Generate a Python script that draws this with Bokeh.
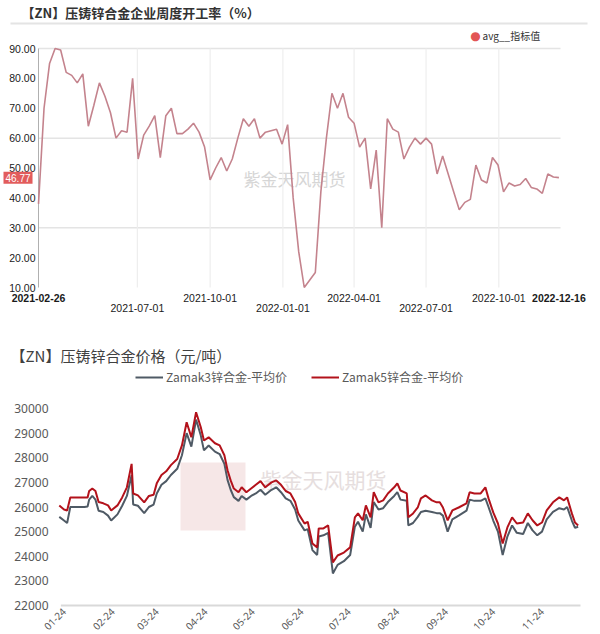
import pandas as pd
from bokeh.plotting import figure
from bokeh.layouts import column
from bokeh.models import (Label, Legend, LegendItem, BoxAnnotation, Range1d)
from bokeh.embed import file_html
from bokeh.resources import INLINE

# ---------------- data: weekly operating rate (%) ----------------
util_title = "【ZN】压铸锌合金企业周度开工率（%）"
util_series = "avg__指标值"
util_start = "2021-02-26"
util_values = [38, 70, 85, 90, 89.5, 82, 81, 78.5, 81.5, 64,
               71, 78.5, 74, 68.5, 60, 62.5, 62, 80, 53, 61,
               64, 67.5, 53.5, 67.5, 70, 61.5, 61.5, 63, 65, 62,
               57, 46, 50, 53.5, 49, 53, 60, 66.5, 64, 66.5,
               60, 62, 62.5, 63, 58, 64.5, 40, 22, 10, 12.5,
               15, 42, 60, 75, 70, 75, 67, 65, 57, 60,
               43, 56, 30, 66.5, 63, 62, 53, 57, 60, 58,
               60, 58, 48, 54, 48, 42, 36, 38.5, 39.5, 51,
               46, 45, 53.5, 51, 42, 45, 44, 44.5, 46.5, 43.5,
               43, 41.5, 48, 47, 46.77]
util_label_dates = ["2021-02-26", "2021-07-01", "2021-10-01", "2022-01-01",
                    "2022-04-01", "2022-07-01", "2022-10-01", "2022-12-16"]
util_label_rows = [0, 1, 0, 1, 0, 1, 0, 0]
util_label_bold = [True, False, False, False, False, False, False, True]
util_yticks = [10, 20, 30, 40, 50, 60, 70, 80, 90]
util_ygrid = [30, 60, 90]
util_x_end = "2022-12-18"

# ---------------- data: die-casting zinc alloy prices ----------------
price_title = "【ZN】压铸锌合金价格（元/吨）"
price_base = "2022-01-24"
price_offsets = [-3, 0, 2, 4, 6, 9, 13, 15, 16, 18, 20, 22, 25, 28, 30, 34, 37, 40, 43, 44,
                 47, 51, 54, 57, 59, 62, 65, 68, 72, 75, 78, 81, 84, 87, 89, 92, 96, 99, 102, 104,
                 106, 108, 111, 113, 116, 119, 122, 125, 128, 132, 135, 138, 141, 144, 147, 149, 153, 155, 158, 161,
                 162, 165, 168, 171, 174, 178, 182, 185, 187, 190, 192, 195, 197, 200, 203, 206, 210, 212, 214, 218,
                 219, 222, 225, 227, 230, 234, 237, 239, 241, 244, 247, 251, 256, 258, 261, 265, 268, 270, 273, 276,
                 279, 282, 285, 288, 292, 295, 298, 301, 304, 307, 311, 315, 318, 320, 323, 325, 327]
zamak5 = [26065, 25900, 25860, 26390, 26390, 26390, 26390, 26390, 26650, 26750, 26650, 26200, 26150, 26065, 25860, 26065, 26390, 26800, 27750, 26550,
          26470, 26190, 26450, 26500, 26960, 27300, 27450, 27700, 27950, 28500, 29440, 28830, 29850, 29240, 28700, 28830, 28590, 28500, 28100, 27490,
          27080, 26750, 26600, 26800, 26600, 26750, 26900, 27050, 26800, 27000, 27080, 26900, 26650, 26550, 26200, 25740, 25330, 25400, 24520, 24360,
          25130, 25130, 25250, 23750, 24030, 24150, 24360, 25580, 25740, 25460, 26065, 25580, 26600, 26190, 26270, 26550, 26800, 26960, 26670, 26550,
          25580, 25740, 25980, 26350, 26470, 26270, 26190, 26190, 25980, 25460, 25860, 25980, 26150, 26600, 26550, 26550, 26800, 26350, 25780, 25330,
          24520, 25170, 25580, 25330, 25370, 25740, 25460, 25250, 25370, 25860, 26190, 26390, 26270, 26390, 25740, 25370, 25250]
zamak3 = [25600, 25450, 25350, 26000, 26000, 26000, 26000, 26020, 26300, 26450, 26300, 25850, 25800, 25650, 25450, 25700, 26050, 26450, 27300, 26100,
          26050, 25750, 26000, 26100, 26550, 26900, 27050, 27300, 27550, 28100, 29000, 28450, 29550, 28900, 28300, 28500, 28250, 28150, 27750, 27100,
          26700, 26400, 26250, 26450, 26300, 26450, 26550, 26700, 26500, 26700, 26800, 26600, 26350, 26250, 25900, 25450, 25050, 25100, 24250, 24050,
          24800, 24850, 24950, 23300, 23650, 23800, 24050, 25200, 25400, 25000, 25700, 25150, 26200, 25900, 25950, 26200, 26450, 26600, 26300, 26250,
          25250, 25350, 25600, 25800, 25850, 25800, 25750, 25750, 25650, 25000, 25500, 25650, 25850, 26300, 26250, 26250, 26350, 26000, 25450, 25000,
          24050, 24800, 25250, 24950, 24900, 25350, 25050, 24850, 25000, 25500, 25800, 25950, 25900, 26000, 25450, 25150, 25200]
price_series = ["Zamak3锌合金-平均价", "Zamak5锌合金-平均价"]
price_tick_dates = ["2022-01-24", "2022-02-24", "2022-03-24", "2022-04-24", "2022-05-24", "2022-06-24",
                    "2022-07-24", "2022-08-24", "2022-09-24", "2022-10-24", "2022-11-24"]
price_tick_labels = ["01-24", "02-24", "03-24", "04-24", "05-24", "06-24",
                     "07-24", "08-24", "09-24", "10-24", "11-24"]
price_yticks = [22000, 23000, 24000, 25000, 26000, 27000, 28000, 29000, 30000]
price_ygrid = [22000]
price_x_start = -3.5
price_x_end = 328.5

CJK = "Noto Sans CJK SC"
DAY = 86400000.0


def ms(d):
    return pd.Timestamp(d).value / 1e6


def xr(v0, v1, px0, px1, total):
    """Range so that v0 sits at pixel px0 and v1 at px1 of a canvas `total` wide."""
    s = (v1 - v0) / (px1 - px0)
    return Range1d(v0 - px0 * s, v0 + (total - px0) * s)


def yr(v0, v1, pb, pt, total):
    """Range so that v0 sits at pixel row pb and v1 at row pt (rows from top)."""
    s = (v1 - v0) / (pb - pt)
    return Range1d(v0 - (total - pb) * s, v1 + pt * s)


def new_fig(w, h, x_range, y_range):
    p = figure(width=w, height=h, x_axis_type="datetime", output_backend="svg",
               toolbar_location=None, x_range=x_range, y_range=y_range,
               min_border=0, min_border_left=0, min_border_right=0,
               min_border_top=0, min_border_bottom=0)
    p.axis.visible = False
    p.grid.visible = False
    p.outline_line_color = None
    p.border_fill_color = "white"
    p.background_fill_color = "white"
    return p


# ======================= top chart =======================
W, H1 = 600, 320
L1, R1, T1, B1 = 38, 560, 48, 287          # plot-area pixel box
u_dates = pd.date_range(util_start, periods=len(util_values), freq="7D")
p1 = new_fig(W, H1, xr(ms(util_start), ms(util_x_end), L1, R1, W),
             yr(util_yticks[0], util_yticks[-1], B1, T1, H1))

x0, x1 = ms(util_start), ms(util_x_end)
# horizontal grid lines
p1.segment(x0=[x0] * len(util_ygrid), x1=[x1] * len(util_ygrid), y0=util_ygrid, y1=util_ygrid,
           line_color="#e4e4e4", line_width=1.5)
# vertical grid lines
vg = [ms(d) for d in util_label_dates[1:-1]]
p1.segment(x0=vg, x1=vg, y0=[util_yticks[0]] * len(vg), y1=[util_yticks[-1]] * len(vg),
           line_color="#eeeeee", line_width=1.2)
# y axis line
p1.segment(x0=[x0], x1=[x0], y0=[util_yticks[0]], y1=[util_yticks[-1]],
           line_color="#b0b0b0", line_width=1)

p1.add_layout(Label(x=243, y=H1 - 178, x_units="screen", y_units="screen", text="紫金天风期货",
                    text_font=CJK, text_font_size="17px", text_color="#d6d6d6",
                    text_baseline="middle", level="underlay"))

p1.line(u_dates, util_values, line_color="#c4838d", line_width=1.6)

# legend (marker + label)
p1.add_layout(Label(x=475, y=H1 - 35, x_units="screen", y_units="screen", text="●",
                    text_font="DejaVu Sans", text_font_size="12px", text_color="#e25555",
                    text_align="center", text_baseline="middle"))
p1.add_layout(Label(x=482, y=H1 - 35, x_units="screen", y_units="screen", text=util_series,
                    text_font=CJK, text_font_size="10px", text_color="#333333",
                    text_baseline="middle"))

p1.add_layout(BoxAnnotation(left=10, right=587, bottom=H1 - 24, top=H1 - 22,
                            left_units="screen", right_units="screen",
                            bottom_units="screen", top_units="screen",
                            fill_color="#e4e4e4", fill_alpha=1, line_color=None))
p1.add_layout(Label(x=21, y=H1 - 12, x_units="screen", y_units="screen", text=util_title,
                    text_font=CJK, text_font_size="13px", text_font_style="bold",
                    text_color="#333333", text_baseline="middle"))
for v in util_yticks:
    p1.add_layout(Label(x=L1 - 3, y=v, x_units="screen", y_units="data", text="%.2f" % v,
                        text_font="Liberation Sans", text_font_size="10.5px",
                        text_color="#1a1a1a", text_align="right", text_baseline="middle"))
p1.add_layout(Label(x=3, y=util_values[-1], x_units="screen", y_units="data",
                    text="%.2f" % util_values[-1], text_font="Liberation Sans",
                    text_font_size="10px", text_color="white", text_baseline="middle",
                    background_fill_color="#e25c5c", padding=2))
for d, row, b in zip(util_label_dates, util_label_rows, util_label_bold):
    p1.add_layout(Label(x=ms(d), y=H1 - (297 + 10 * row), x_units="data", y_units="screen", text=d,
                        text_font="Liberation Sans", text_font_size="10.5px",
                        text_font_style="bold" if b else "normal",
                        text_color="#1a1a1a", text_align="center", text_baseline="middle"))

# ======================= bottom chart =======================
H2 = 314
L2, R2, T2, B2 = 58, 580, 88, 285
base_ms = ms(price_base)
p_dates = pd.Timestamp(price_base) + pd.to_timedelta(price_offsets, unit="D")
xs0, xs1 = base_ms + price_x_start * DAY, base_ms + price_x_end * DAY
p2 = new_fig(W, H2, xr(xs0, xs1, L2, R2, W), yr(price_yticks[0], price_yticks[-1], B2, T2, H2))

p2.segment(x0=[xs0 + 1.5 * DAY] * len(price_ygrid), x1=[xs1] * len(price_ygrid),
           y0=price_ygrid, y1=price_ygrid, line_color="#d9d9d9", line_width=2)

# watermark
p2.add_layout(BoxAnnotation(left=180, right=245, bottom=H2 - 210, top=H2 - 142,
                            left_units="screen", right_units="screen",
                            bottom_units="screen", top_units="screen",
                            fill_color="#f4e1e1", fill_alpha=0.8, line_color=None,
                            level="underlay"))
p2.add_layout(Label(x=260, y=H2 - 158, x_units="screen", y_units="screen", text="紫金天风期货",
                    text_font=CJK, text_font_size="21px", text_color="#e6dede",
                    text_baseline="middle", level="underlay"))

r3 = p2.line(p_dates, zamak3, line_color="#4f5a65", line_width=2)
r5 = p2.line(p_dates, zamak5, line_color="#b3121b", line_width=2)
leg2 = Legend(items=[LegendItem(label=price_series[0], renderers=[r3]),
                     LegendItem(label=price_series[1], renderers=[r5])],
              location=(135, H2 - 65), orientation="horizontal",
              background_fill_alpha=0, border_line_color=None, padding=0, margin=0,
              label_text_font=CJK, label_text_font_size="12px", label_text_color="#595959",
              glyph_width=28, glyph_height=14, label_standoff=3, label_height=14, spacing=24)
p2.add_layout(leg2)

p2.add_layout(Label(x=10, y=H2 - 35, x_units="screen", y_units="screen", text=price_title,
                    text_font=CJK, text_font_size="15px", text_color="#404040",
                    text_baseline="middle"))
for v in price_yticks:
    p2.add_layout(Label(x=L2 - 10, y=v, x_units="screen", y_units="data", text=str(v),
                        text_font="Noto Sans", text_font_size="12px",
                        text_color="#595959", text_align="right", text_baseline="middle"))
for d, t in zip(price_tick_dates, price_tick_labels):
    p2.add_layout(Label(x=ms(d), y=H2 - 289, x_units="data", y_units="screen", text=t,
                        angle=0.785398, text_font="Noto Sans", text_font_size="10px",
                        text_color="#595959", text_align="right", text_baseline="middle"))

layout = column(p1, p2, spacing=0)
open("out.html", "w").write(file_html(layout, INLINE))
